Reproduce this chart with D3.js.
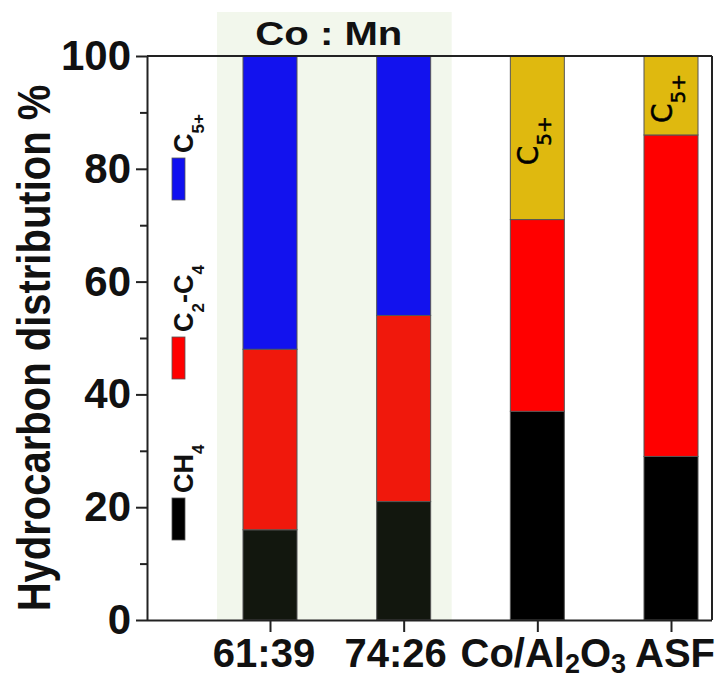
<!DOCTYPE html>
<html lang="en">
<head>
<meta charset="UTF-8">
<title>Hydrocarbon distribution</title>
<script src="https://cdn.jsdelivr.net/npm/d3@7/dist/d3.min.js"></script>
<style>
  body { margin: 0; background: #fff; }
  text { font-family: "Liberation Sans", Arial, sans-serif; }
</style>
</head>
<body>
<script>
// values (% of hydrocarbons)
const categories = ["61:39", "74:26", "Co/Al2O3", "ASF"];
const ch4Share  = [16, 21, 37, 29];
const c2c4Share = [32, 33, 34, 57];
const c5Share   = [52, 46, 29, 14];
const seriesKeys = ["ch4", "c2c4", "c5"];
const majorTicks = [0, 20, 40, 60, 80, 100];
const minorTicks = [10, 30, 50, 70, 90];
const coMnGroup = ["61:39", "74:26"];

const width = 719, height = 680
const plotL = 147, plotR = 712, plotT = 56, plotB = 620

const rows = categories.map((c, i) => ({cat: c, ch4: ch4Share[i], c2c4: c2c4Share[i], c5: c5Share[i]}))

// the Co:Mn bars have slightly different shades than the reference bars
const colors = {
  mn:  {ch4: "#12170e", c2c4: "#f0180c", c5: "#1212ee"},
  ref: {ch4: "#000000", c2c4: "#ff0000", c5: "#dfb90f"},
  legend: {ch4: "#000000", c2c4: "#ff0000", c5: "#1010f0"}
}

const svg = d3.select("body").append("svg")
  .attr("width", width)
  .attr("height", height)

const x = d3.scalePoint().domain(categories).range([270, 671])
const barW = 54
const y = d3.scaleLinear().domain([0, 100]).range([plotB, plotT])

// green panel behind the Co:Mn bars
svg.append("rect")
  .attr("x", x(coMnGroup[0]) - 53)
  .attr("y", 12)
  .attr("width", x(coMnGroup[1]) - x(coMnGroup[0]) + 101)
  .attr("height", plotB - 12)
  .attr("fill", "#f2f7ec")

svg.append("text")
  .attr("x", (x(coMnGroup[0]) + x(coMnGroup[1])) / 2 - 8)
  .attr("y", 45)
  .attr("text-anchor", "middle")
  .attr("font-size", 34)
  .attr("font-weight", "bold")
  .attr("fill", "#111")
  .attr("textLength", 147)
  .attr("lengthAdjust", "spacingAndGlyphs")
  .text("Co : Mn")

// stacked bars
const stacked = d3.stack().keys(seriesKeys)(rows)
stacked.forEach(layer => {
  svg.append("g").selectAll("rect")
    .data(layer)
    .enter().append("rect")
    .attr("x", d => x(d.data.cat) - barW / 2)
    .attr("y", d => y(d[1]))
    .attr("width", barW)
    .attr("height", d => y(d[0]) - y(d[1]))
    .attr("fill", d => (coMnGroup.includes(d.data.cat) ? colors.mn : colors.ref)[layer.key])
    .attr("stroke", "#555")
    .attr("stroke-width", 1)
})

// C5+ labels inside the reference bars
const c5Layer = stacked[2].filter(d => !coMnGroup.includes(d.data.cat))
c5Layer.forEach(d => {
  const cx = x(d.data.cat) + 1, cy = (y(d[0]) + y(d[1])) / 2 + 3
  const t = svg.append("text")
    .attr("transform", `translate(${cx},${cy}) rotate(-90)`)
    .attr("text-anchor", "middle")
    .attr("font-size", 28)
    .attr("fill", "#000")
    .attr("stroke", "#000").attr("stroke-width", 0.5)
    .style("font-family", "'DejaVu Sans', sans-serif")
  t.append("tspan").text("C")
  t.append("tspan").attr("dy", 13).attr("font-size", 20).text("5+")
})

// frame
svg.append("line").attr("x1", plotL).attr("x2", plotR).attr("y1", plotT).attr("y2", plotT)
  .attr("stroke", "#222").attr("stroke-width", 2)
svg.append("line").attr("x1", plotR).attr("x2", plotR).attr("y1", plotT).attr("y2", plotB)
  .attr("stroke", "#222").attr("stroke-width", 2)

// axes
const yAxis = svg.append("g")
  .attr("transform", `translate(${plotL},0)`)
  .call(d3.axisLeft(y).tickValues(majorTicks).tickSize(11).tickPadding(5).tickSizeOuter(0))
svg.append("g")
  .attr("transform", `translate(${plotL},0)`)
  .call(d3.axisLeft(y).tickValues(minorTicks).tickSize(7).tickFormat("").tickSizeOuter(0))
  .call(g => g.select(".domain").remove())
yAxis.selectAll("text")
  .attr("font-size", 42).attr("font-weight", "bold").attr("fill", "#111")
  .attr("font-family", "'Liberation Sans', Arial, sans-serif")

const xAxis = svg.append("g")
  .attr("transform", `translate(0,${plotB})`)
  .call(d3.axisBottom(x).tickSize(12).tickSizeOuter(0).tickFormat(""))
xAxis.select(".domain").attr("d", `M${plotL},0.5H${plotR}`)
svg.selectAll(".domain, .tick line").attr("stroke", "#222").attr("stroke-width", 2)

// x labels, with subscripts where needed; small nudges so they sit as in the figure
const labelNudge = {"61:39": -6, "74:26": -8, "Co/Al2O3": 6, "ASF": 4}
categories.forEach(c => {
  const t = svg.append("text")
    .attr("x", x(c) + labelNudge[c])
    .attr("y", 667)
    .attr("text-anchor", "middle")
    .attr("font-size", 40)
    .attr("font-weight", "bold")
    .attr("fill", "#111")
  if (c === "Co/Al2O3") {
    t.append("tspan").text("Co/Al")
    t.append("tspan").attr("font-size", 27).attr("dy", 6).text("2")
    t.append("tspan").attr("dy", -6).text("O")
    t.append("tspan").attr("font-size", 27).attr("dy", 6).text("3")
  } else {
    t.text(c)
  }
})

// y title
svg.append("text")
  .attr("transform", `translate(50,348) rotate(-90) scale(1,1.15)`)
  .attr("text-anchor", "middle")
  .attr("font-size", 40)
  .attr("font-weight", "bold")
  .attr("fill", "#111")
  .text("Hydrocarbon distribution %")

// legend down the left side
const legendItems = [
  {key: "c5", y0: 158, label: [["C", 0], ["5+", 1]]},
  {key: "c2c4", y0: 337, label: [["C", 0], ["2", 1], ["-C", 0], ["4", 1]]},
  {key: "ch4", y0: 498, label: [["CH", 0], ["4", 1]]}
]
legendItems.forEach(it => {
  svg.append("rect")
    .attr("x", 172).attr("y", it.y0)
    .attr("width", 13).attr("height", 42)
    .attr("fill", colors.legend[it.key])
    .attr("stroke", "#555").attr("stroke-width", 0.8)
  const t = svg.append("text")
    .attr("transform", `translate(193,${it.y0 - 5}) rotate(-90)`)
    .attr("font-size", 27)
    .attr("font-weight", "bold")
    .attr("fill", "#111")
  let sub = 0
  it.label.forEach(([s, isSub]) => {
    t.append("tspan")
      .attr("dy", isSub === sub ? 0 : (isSub ? 11 : -11))
      .attr("font-size", isSub ? 17 : 27)
      .text(s)
    sub = isSub
  })
})
</script>
</body>
</html>
